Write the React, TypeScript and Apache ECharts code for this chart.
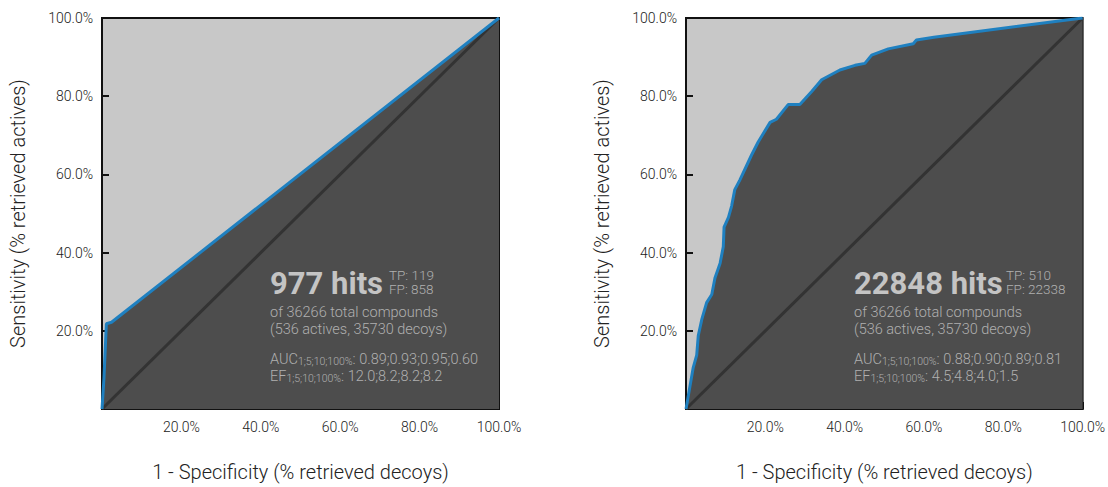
import React, { useEffect, useRef } from "react";
import * as echarts from "echarts";

const leftFpr = [0, 0.5, 1.1, 2.4, 100];
const leftTpr = [0, 8, 21.8, 22.2, 100];

const rightFpr = [0, 1.8, 2.7, 3.1, 4.0, 5.2, 6.5, 7.3, 8.6, 9.4, 9.6, 10.7, 11.5, 12.3, 13.6, 16.5, 18.2, 21.2, 22.8, 25.8, 28.7, 31.7, 34.2, 38.8, 42.6, 45.1, 46.8, 51.0, 57.3, 58.1, 62.5, 100];
const rightTpr = [0, 10.5, 13.8, 18.8, 23.0, 27.2, 29.3, 33.5, 37.3, 41.5, 46.5, 49.0, 51.9, 56.1, 58.6, 64.9, 68.3, 73.3, 74.1, 77.9, 77.9, 81.2, 84.2, 86.7, 87.9, 88.4, 90.5, 92.1, 93.4, 94.4, 95.1, 100];

const diagonal = [0, 100];

const leftStats = { hits: "977 hits", tp: "TP: 119", fp: "FP: 858", auc: ": 0.89;0.93;0.95;0.60", ef: ": 12.0;8.2;8.2;8.2" };
const rightStats = { hits: "22848 hits", tp: "TP: 510", fp: "FP: 22338", auc: ": 0.88;0.90;0.89;0.81", ef: ": 4.5;4.8;4.0;1.5" };
const totalLine = "of 36266 total compounds";
const splitLine = "(536 actives, 35730 decoys)";
const subLabel = "1;5;10;100%";
const xName = "1 - Specificity (% retrieved decoys)";
const yName = "Sensitivity (% retrieved actives)";

const FONT = "Roboto, sans-serif";
const LIGHT = "#c8c8c8";
const DARK = "#4d4d4d";
const BLUE = "#1f80c0";

function pairs(xs: number[], ys: number[]) {
  return xs.map((x, i) => [x, ys[i]]);
}

function fmt(v: number) {
  return v === 0 ? "" : v.toFixed(1) + "%";
}

function statBlock(x: number, tpX: number, s: typeof leftStats) {
  const txtColor = "#b0b0b0";
  const rich = {
    m: { fontSize: 14.5, fontFamily: FONT, fontWeight: 300, fill: txtColor, lineHeight: 18, verticalAlign: "bottom" },
    s: { fontSize: 10.5, fontFamily: FONT, fontWeight: 300, fill: txtColor, lineHeight: 10, verticalAlign: "bottom" },
  };
  const base = { z: 100, zlevel: 0 };
  return [
    { ...base, type: "text", x, y: 283, style: { text: s.hits, fontSize: 31, fontWeight: "bold", fontFamily: FONT, fill: "#c4c4c4", verticalAlign: "middle" } },
    { ...base, type: "text", x: tpX, y: 282, style: { text: `${s.tp}\n${s.fp}`, fontSize: 13.5, lineHeight: 13.5, fontWeight: 300, fontFamily: FONT, fill: txtColor, verticalAlign: "middle" } },
    { ...base, type: "text", x, y: 312, style: { text: totalLine, fontSize: 14.5, fontWeight: 300, fontFamily: FONT, fill: txtColor, verticalAlign: "middle" } },
    { ...base, type: "text", x, y: 329, style: { text: splitLine, fontSize: 14.5, fontWeight: 300, fontFamily: FONT, fill: txtColor, verticalAlign: "middle" } },
    { ...base, type: "text", x, y: 358, style: { text: `{m|AUC}{s|${subLabel}}{m|${s.auc}}`, rich, verticalAlign: "middle" } },
    { ...base, type: "text", x, y: 375, style: { text: `{m|EF}{s|${subLabel}}{m|${s.ef}}`, rich, verticalAlign: "middle" } },
  ];
}

function axisCommon(name: string, isY: boolean, gridIndex: number) {
  return {
    type: "value",
    gridIndex,
    min: 0,
    max: 100,
    interval: 20,
    name,
    nameLocation: "middle",
    nameGap: isY ? 74 : 53,
    nameTextStyle: { fontSize: 20, fontFamily: FONT, fontWeight: 300, color: "#222" },
    axisLine: { show: true, lineStyle: { color: "#111", width: 2 } },
    axisTick: { show: true, inside: true, length: 7, lineStyle: { color: "#111", width: 2 } },
    axisLabel: { formatter: fmt, fontSize: 14, fontFamily: FONT, fontWeight: 300, color: "#222", margin: isY ? 9 : 11 },
    splitLine: { show: false },
  };
}

export default function App() {
  const ref = useRef<HTMLDivElement>(null);
  useEffect(() => {
    if (!ref.current) return;
    const chart = echarts.init(ref.current, undefined, { renderer: "svg" });
    const grids = [
      { left: 102, top: 18, width: 397, height: 396 },
      { left: 686, top: 18, width: 397, height: 397 },
    ].map((g) => ({ ...g, show: true, backgroundColor: LIGHT, borderColor: "#111", borderWidth: 2 }));

    const makeSeries = (xs: number[], ys: number[], idx: number) => [
      {
        type: "line", xAxisIndex: idx, yAxisIndex: idx, data: pairs(xs, ys), showSymbol: false, z: 2,
        lineStyle: { width: 0 }, areaStyle: { color: DARK, opacity: 1, origin: "start" },
      },
      {
        type: "line", xAxisIndex: idx, yAxisIndex: idx, data: pairs(diagonal, diagonal), showSymbol: false, z: 3,
        lineStyle: { color: "#333", width: 3 },
      },
      {
        type: "line", xAxisIndex: idx, yAxisIndex: idx, data: pairs(xs, ys), showSymbol: false, z: 4,
        lineStyle: { color: BLUE, width: 3 },
      },
    ];

    chart.setOption({
      animation: false,
      backgroundColor: "#fff",
      grid: grids,
      xAxis: [axisCommon(xName, false, 0), axisCommon(xName, false, 1)],
      yAxis: [axisCommon(yName, true, 0), axisCommon(yName, true, 1)],
      series: [...makeSeries(leftFpr, leftTpr, 0), ...makeSeries(rightFpr, rightTpr, 1)],
      graphic: { elements: [...statBlock(270, 389, leftStats), ...statBlock(854, 1006, rightStats)] },
    });
    return () => chart.dispose();
  }, []);
  return <div ref={ref} style={{ position: "fixed", left: 0, top: 0, width: 1108, height: 487 }} />;
}
